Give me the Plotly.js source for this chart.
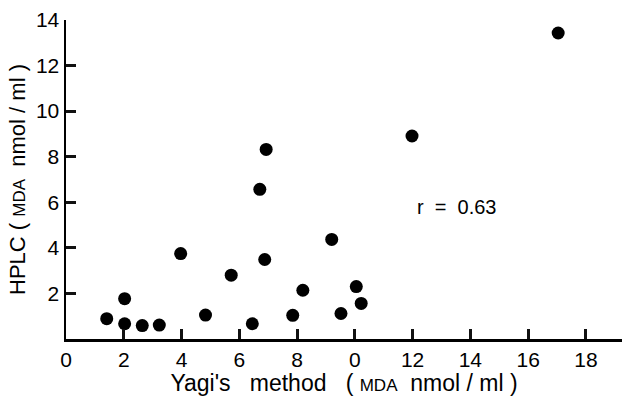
<!DOCTYPE html>
<html>
<head>
<meta charset="utf-8">
<script src="https://cdn.plot.ly/plotly-3.0.1.min.js"></script>
<style>html,body{margin:0;padding:0;background:#fff;}#chart{width:626px;height:396px;}</style>
</head>
<body>
<div id="chart"></div>
<script>
// Yagi's method (x) vs HPLC (y), MDA nmol/ml
var yagi = [1.41, 2.03, 2.03, 2.64, 3.23, 3.97, 4.83, 5.72, 6.45, 6.88, 7.85, 8.20, 9.20, 9.52, 10.05, 10.22, 6.93, 6.71, 11.98, 17.04];
var hplc = [0.89, 1.77, 0.67, 0.59, 0.61, 3.75, 1.05, 2.80, 0.67, 3.49, 1.04, 2.14, 4.37, 1.12, 2.30, 1.56, 8.32, 6.57, 8.91, 13.43];
var xTickVals = [0, 2, 4, 6, 8, 10, 12, 14, 16, 18];
var xTickText = ["0", "2", "4", "6", "8", "0", "12", "14", "16", "18"];
var yTickVals = [2, 4, 6, 8, 10, 12, 14];
var rLabel = "r\u00A0\u00A0=\u00A0\u00A00.63";
var rPos = [13.55, 5.8];

var font = "Liberation Sans, Arial, sans-serif";
var sp = "\u00A0";
var mda = "<span style='font-size:17px'>MDA</span>";

var trace = {
  x: yagi, y: hplc, type: "scatter", mode: "markers",
  marker: {color: "#000", size: 13, line: {width: 0}},
  hoverinfo: "none", cliponaxis: false
};
var layout = {
  width: 626, height: 396,
  margin: {l: 66, r: 4, t: 20, b: 57},
  paper_bgcolor: "#fff",
  showlegend: false,
  font: {family: font, color: "#000"},
  xaxis: {
    range: [0, 19.25], tickmode: "array", tickvals: xTickVals, ticktext: xTickText,
    ticks: "inside", ticklen: 10, tickwidth: 3, tickcolor: "#111",
    showline: true, linewidth: 3, linecolor: "#000",
    showgrid: false, zeroline: false,
    tickfont: {size: 21, family: font, color: "#000"},
    title: {text: "Yagi's" + sp + sp + sp + "method" + sp + sp + sp + "(" + sp + mda + sp + sp + "nmol" + sp + "/" + sp + "ml" + sp + ")",
            font: {size: 23, family: font, color: "#000"}, standoff: 2}
  },
  yaxis: {
    range: [0, 14], tickmode: "array", tickvals: yTickVals,
    ticks: "inside", ticklen: 10, tickwidth: 3, tickcolor: "#111",
    showline: true, linewidth: 2.5, linecolor: "#000",
    showgrid: false, zeroline: false,
    tickfont: {size: 21, family: font, color: "#000"},
    title: {text: "HPLC" + sp + "(" + sp + mda + sp + sp + "nmol" + sp + "/" + sp + "ml" + sp + ")",
            font: {size: 22, family: font, color: "#000"}, standoff: 4}
  },
  annotations: [{
    x: rPos[0], y: rPos[1], xref: "x", yref: "y", text: rLabel, showarrow: false,
    font: {size: 20, family: font, color: "#000"}
  }]
};
Plotly.newPlot("chart", [trace], layout, {staticPlot: true, displayModeBar: false});
</script>
</body>
</html>
